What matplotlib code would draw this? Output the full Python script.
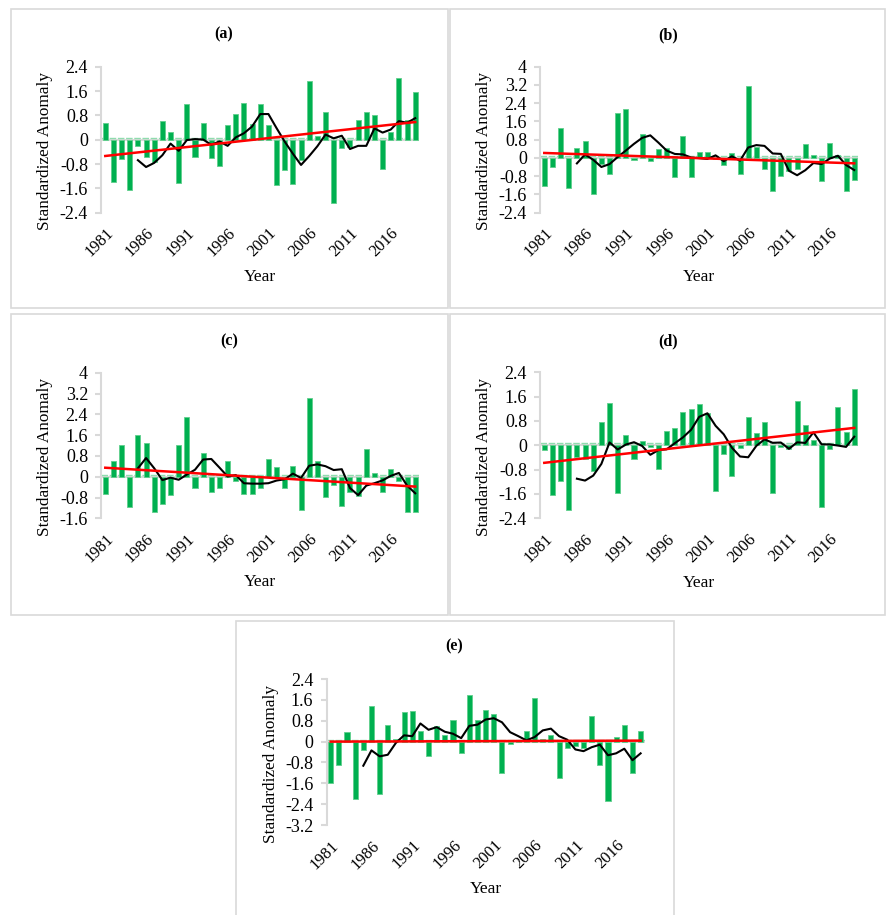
import numpy as np
import pandas as pd
import matplotlib.pyplot as plt
import matplotlib.transforms as mtransforms
from matplotlib.patches import Rectangle

plt.rcParams['font.family'] = ['Liberation Serif', 'DejaVu Serif']
plt.rcParams['axes.unicode_minus'] = False

years = list(range(1981, 2020))
label_years = [1981, 1986, 1991, 1996, 2001, 2006, 2011, 2016]

# standardized anomalies, one value per year
anom_a = [0.54, -1.40, -0.64, -1.65, -0.22, -0.58, -0.72, 0.62, 0.26, -1.41,
          1.19, -0.56, 0.54, -0.59, -0.87, 0.47, 0.83, 1.22, 0.52, 1.17,
          0.48, -1.49, -1.00, -1.46, -0.68, 1.94, 0.12, 0.92, -2.07, -0.26,
          -0.24, 0.64, 0.92, 0.80, -0.95, 0.26, 2.02, 0.65, 1.56]
anom_b = [-1.21, -0.41, 1.33, -1.33, 0.43, 0.74, -1.57, -0.25, -0.70, 1.98,
          2.16, -0.10, 1.06, -0.15, 0.38, 0.43, -0.84, 0.96, -0.84, 0.25,
          0.25, -0.05, -0.32, 0.23, -0.71, 3.14, 0.48, -0.50, -1.43, -0.80,
          -0.56, -0.50, 0.60, 0.15, -1.03, 0.64, 0.12, -1.43, -0.95]
anom_c = [-0.67, 0.62, 1.21, -1.17, 1.62, 1.31, -1.35, -1.06, -0.71, 1.22,
          2.31, -0.42, 0.90, -0.60, -0.44, 0.60, -0.15, -0.67, -0.67, -0.45,
          0.69, 0.36, -0.42, 0.41, -1.28, 3.04, 0.62, -0.77, -0.33, -1.12,
          -0.58, -0.74, 1.06, 0.13, -0.58, 0.29, -0.18, -1.35, -1.37]
anom_d = [-0.15, -1.65, -1.16, -2.13, -0.40, -0.46, -0.83, 0.76, 1.40, -1.56,
          0.35, -0.44, 0.14, -0.05, -0.78, 0.47, 0.56, 1.10, 1.20, 1.35,
          1.05, -1.49, -0.30, -1.00, -0.10, 0.92, 0.39, 0.76, -1.56, -0.05,
          -0.12, 1.46, 0.66, 0.18, -2.02, -0.13, 1.27, 0.44, 1.85]
anom_e = [-1.58, -0.88, 0.35, -2.21, -0.31, 1.36, -2.02, 0.65, 0.08, 1.13,
          1.19, 0.42, -0.56, 0.59, 0.24, 0.81, -0.42, 1.80, 0.81, 1.23,
          1.06, -1.20, -0.10, 0.05, 0.42, 1.69, 0.08, 0.24, -1.39, -0.26,
          -0.18, -0.25, 1.00, -0.91, -2.28, 0.19, 0.63, -1.20, 0.40]

yticks_a = [-2.4, -1.6, -0.8, 0, 0.8, 1.6, 2.4]
yticks_b = [-2.4, -1.6, -0.8, 0, 0.8, 1.6, 2.4, 3.2, 4]
yticks_c = [-1.6, -0.8, 0, 0.8, 1.6, 2.4, 3.2, 4]
yticks_d = [-2.4, -1.6, -0.8, 0, 0.8, 1.6, 2.4]
yticks_e = [-3.2, -2.4, -1.6, -0.8, 0, 0.8, 1.6, 2.4]

W, H = 887, 915
GREEN = '#00b050'
GRID = '#d9d9d9'

fig = plt.figure(figsize=(W / 100, H / 100), dpi=100)


def px_axes(left, top, right, bottom):
    return fig.add_axes([left / W, 1 - bottom / H, (right - left) / W, (bottom - top) / H])


def frame(left, top, right, bottom):
    fig.patches.append(Rectangle((left / W, 1 - bottom / H), (right - left) / W,
                                 (bottom - top) / H, transform=fig.transFigure,
                                 fill=False, edgecolor=GRID, linewidth=1.2))


def draw_panel(ax, values, yticks):
    vals = pd.Series(values, index=years)
    ma = vals.rolling(5).mean()
    slope, icpt = np.polyfit(years, values, 1)

    # zero axis, with the dashed reference line sitting just above it
    ax.axhline(0, color=GRID, linewidth=1.5, zorder=1)
    shifted = mtransforms.offset_copy(ax.transData, fig=fig, y=1.3, units='points')
    ax.plot([1980.5, 2019.5], [0, 0], color='#8fdcae', linewidth=1.0,
            linestyle=(0, (4.7, 1.2)), transform=shifted, zorder=1.5)

    ax.bar(years, values, width=0.62, color=GREEN, edgecolor='#5fcf8c',
           linewidth=0.6, zorder=2)
    ax.plot(years, ma.values, color='black', linewidth=1.5, zorder=3)
    ax.plot(years, [slope * y + icpt for y in years], color='#ff0000',
            linewidth=1.8, zorder=4)

    ax.set_xlim(1980.5, 2019.5)
    ax.set_ylim(yticks[0], yticks[-1])
    ax.set_yticks(yticks)
    ax.set_yticklabels([f'{t:g}' for t in yticks], fontsize=13)
    ax.set_xticks(label_years)
    ax.set_xticklabels([str(y) for y in label_years], fontsize=12,
                       rotation=45, ha='right', va='top', rotation_mode='anchor')
    nudge = mtransforms.ScaledTranslation(3 / 100, 0, fig.dpi_scale_trans)
    for lab in ax.get_xticklabels():
        lab.set_transform(lab.get_transform() + nudge)
    ax.tick_params(axis='x', length=0, pad=9)
    ax.tick_params(axis='y', length=4, width=1.5, color=GRID, pad=5.5)

    for side in ['top', 'right', 'bottom']:
        ax.spines[side].set_visible(False)
    ax.spines['left'].set_color(GRID)
    ax.spines['left'].set_linewidth(1.5)
    ax.set_facecolor('none')

    ax.text(-0.176, 0.42, 'Standardized Anomaly', transform=ax.transAxes,
            rotation=90, ha='center', va='center', fontsize=12.4)
    ax.text(0.5, -0.44, 'Year', transform=ax.transAxes, ha='center',
            va='center', fontsize=12.5)
    return ax


# panel frames
frame(11, 9, 448, 308)
frame(450, 9, 885, 308)
frame(11, 314, 448, 615)
frame(450, 314, 885, 615)
frame(236, 621, 674, 930)

draw_panel(px_axes(101.2, 66.7, 419.3, 212.7), anom_a, yticks_a)
draw_panel(px_axes(540.2, 66.7, 858.3, 212.7), anom_b, yticks_b)
draw_panel(px_axes(101.2, 372.7, 419.3, 518.3), anom_c, yticks_c)
draw_panel(px_axes(540.2, 372.3, 858.3, 518.3), anom_d, yticks_d)
draw_panel(px_axes(326.6, 679.0, 644.7, 825.0), anom_e, yticks_e)

titles = [('(a)', 224, 34), ('(b)', 668, 35), ('(c)', 229, 341),
          ('(d)', 668, 341), ('(e)', 454, 646)]
for txt, x, y in titles:
    fig.text(x / W, 1 - y / H, txt, ha='center', va='center',
             fontsize=11.5, fontweight='bold')

fig.savefig('out.png', dpi=100, facecolor='white')
